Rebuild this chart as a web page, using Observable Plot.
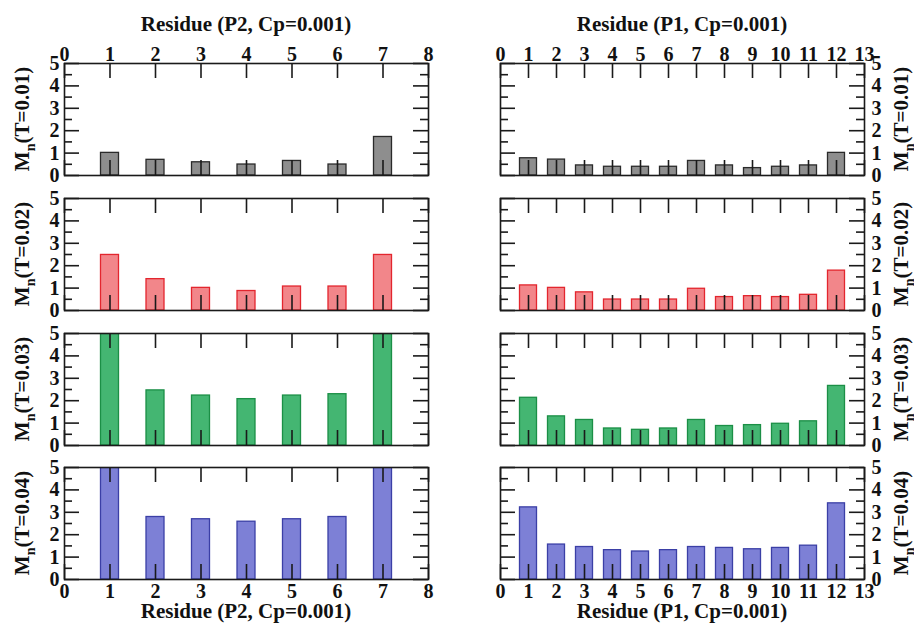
<!DOCTYPE html>
<html><head><meta charset="utf-8">
<script src="https://cdn.jsdelivr.net/npm/d3@7"></script>
<script src="https://cdn.jsdelivr.net/npm/@observablehq/plot@0.6"></script>
<style>
body{margin:0;background:#fff;}
#fig{position:relative;width:914px;height:629px;overflow:hidden;background:#fff;font-family:"Liberation Serif","Times New Roman",serif;}
#fig svg{position:absolute;overflow:visible;}
</style></head><body><div id="fig"></div>
<script>
// ---- data ----
const residuesP2 = [1, 2, 3, 4, 5, 6, 7];
const residuesP1 = [1, 2, 3, 4, 5, 6, 7, 8, 9, 10, 11, 12];
const temperatures = ["0.01", "0.02", "0.03", "0.04"];

const p2_T001 = [1.01, 0.70, 0.59, 0.49, 0.65, 0.49, 1.72];
const p2_T002 = [2.48, 1.40, 1.01, 0.87, 1.07, 1.07, 2.48];
const p2_T003 = [6.0, 2.46, 2.23, 2.07, 2.23, 2.29, 6.0];
const p2_T004 = [6.5, 2.79, 2.69, 2.58, 2.69, 2.79, 6.5];

const p1_T001 = [0.77, 0.71, 0.45, 0.39, 0.39, 0.39, 0.65, 0.45, 0.33, 0.39, 0.45, 1.01];
const p1_T002 = [1.12, 1.01, 0.81, 0.49, 0.49, 0.49, 0.97, 0.60, 0.64, 0.60, 0.70, 1.78];
const p1_T003 = [2.13, 1.30, 1.14, 0.76, 0.70, 0.76, 1.14, 0.87, 0.91, 0.97, 1.08, 2.66];
const p1_T004 = [3.22, 1.56, 1.45, 1.31, 1.25, 1.31, 1.45, 1.41, 1.35, 1.41, 1.51, 3.40];

const xTicksP2 = [0, 1, 2, 3, 4, 5, 6, 7, 8];
const xTicksP1 = [0, 1, 2, 3, 4, 5, 6, 7, 8, 9, 10, 11, 12, 13];
const yTicks = [0, 1, 2, 3, 4, 5];
const yMinorTicks = [0.5, 1.5, 2.5, 3.5, 4.5];

const titleP2 = "Residue (P2, Cp=0.001)";
const titleP1 = "Residue (P1, Cp=0.001)";

const fills = ["#8e8e8e", "#f2868a", "#44b672", "#7d80d6"];
const strokes = ["#2a2a2a", "#e3262e", "#1b8f46", "#3b3fa6"];

// ---- layout ----
const FW = 364, FH = 112;
const panelTops = [63, 198, 333, 467];
const FONT = '"Liberation Serif","Times New Roman",serif';
const FS = 21;   // titles
const TS = 20;   // tick labels
const fig = document.getElementById("fig");

function panel(values, residues, xTicks, side, row, title) {
  const left = side === "left";
  const isTop = row === 0, isBottom = row === 3;
  const mt = isTop ? 63 : 10, mb = isBottom ? 50 : 10;
  const ml = left ? 64 : 43, mr = left ? 29 : 50;
  const data = residues.map((r, i) => ({r, v: values[i]}));
  const unit = FW / (xTicks.length - 1);
  const barW = left ? 18 : 17;
  const inset = (unit - barW) / 2;
  const tickStroke = "#1a1a1a";
  const txt = {fontSize: TS, fontWeight: "bold", fontFamily: FONT, fill: "#111", text: d => String(d)};
  const marks = [
    Plot.rectY(data, {x1: d => d.r - 0.5, x2: d => d.r + 0.5, y: "v", insetLeft: inset, insetRight: inset,
      fill: fills[row], stroke: strokes[row], strokeWidth: 1.3, clip: true}),
    Plot.ruleX(xTicks, {insetTop: FH - 15, stroke: tickStroke, strokeWidth: 1.6}),
    Plot.ruleX(xTicks, {insetBottom: FH - 15, stroke: tickStroke, strokeWidth: 1.6}),
    Plot.ruleY(yTicks, {insetRight: FW - 15, stroke: tickStroke, strokeWidth: 1.6}),
    Plot.ruleY(yTicks, {insetLeft: FW - 15, stroke: tickStroke, strokeWidth: 1.6}),
    Plot.ruleY(yMinorTicks, {insetRight: FW - 8, stroke: tickStroke, strokeWidth: 1.6}),
    Plot.ruleY(yMinorTicks, {insetLeft: FW - 8, stroke: tickStroke, strokeWidth: 1.6}),
    Plot.frame({stroke: "#1a1a1a", strokeWidth: 1.6}),
    left
      ? Plot.text(yTicks, {y: d => d, frameAnchor: "left", textAnchor: "end", dx: -5, ...txt})
      : Plot.text(yTicks, {y: d => d, frameAnchor: "right", textAnchor: "start", dx: 7, ...txt})
  ];
  if (isTop) marks.push(Plot.text(xTicks, {x: d => d, frameAnchor: "top", lineAnchor: "bottom", dy: -3, ...txt}));
  if (isBottom) marks.push(Plot.text(xTicks, {x: d => d, frameAnchor: "bottom", lineAnchor: "top", dy: 4, ...txt}));
  const svg = Plot.plot({
    width: 457, height: mt + FH + mb,
    marginTop: mt, marginBottom: mb, marginLeft: ml, marginRight: mr,
    x: {domain: [xTicks[0], xTicks[xTicks.length - 1]], axis: null},
    y: {domain: [0, 5], axis: null},
    style: {fontFamily: FONT, fontSize: TS + "px", fontWeight: "bold", color: "#111", background: "transparent", overflow: "visible"},
    marks
  });
  svg.style.left = (left ? 0 : 457) + "px";
  svg.style.top = (panelTops[row] - mt) + "px";
  const s = d3.select(svg);
  // y label with subscript
  const lx = left ? 29 : 451;
  const t = s.append("text")
    .attr("transform", `translate(${lx},${mt + FH / 2}) rotate(-90)`)
    .attr("text-anchor", "middle")
    .attr("font-family", FONT).attr("font-weight", "bold").attr("font-size", 21).attr("fill", "#111");
  t.append("tspan").text("M");
  t.append("tspan").attr("dy", 6).attr("font-size", 14).text("n");
  t.append("tspan").attr("dy", -6).text(`(T=${temperatures[row]})`);
  if (isTop) {
    s.append("text").attr("x", ml + FW / 2).attr("y", 31).attr("text-anchor", "middle")
      .attr("font-family", FONT).attr("font-weight", "bold").attr("font-size", FS).attr("fill", "#111").text(title);
  }
  if (isBottom) {
    s.append("text").attr("x", ml + FW / 2).attr("y", mt + FH + 39).attr("text-anchor", "middle")
      .attr("font-family", FONT).attr("font-weight", "bold").attr("font-size", FS).attr("fill", "#111").text(title);
  }
  fig.appendChild(svg);
}

const p2Series = [p2_T001, p2_T002, p2_T003, p2_T004];
const p1Series = [p1_T001, p1_T002, p1_T003, p1_T004];
p2Series.forEach((vals, row) => panel(vals, residuesP2, xTicksP2, "left", row, titleP2));
p1Series.forEach((vals, row) => panel(vals, residuesP1, xTicksP1, "right", row, titleP1));
</script>
</body></html>
